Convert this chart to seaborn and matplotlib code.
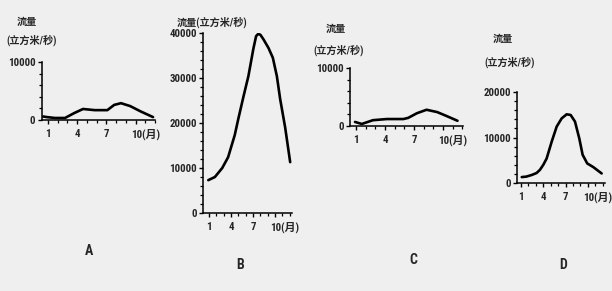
import matplotlib
matplotlib.use("Agg")
import matplotlib.pyplot as plt
import seaborn as sns
from matplotlib import font_manager
from matplotlib.ticker import MultipleLocator
from matplotlib.transforms import ScaledTranslation

# ---- data ----
months_a = [0.5, 0.9, 1.7, 2.75, 3.7, 4.6, 5.8, 7.1, 7.8, 8.5, 9.45, 10.5, 11.8]
flow_a = [600, 500, 350, 350, 1200, 1900, 1700, 1700, 2600, 2900, 2400, 1500, 500]

months_b = [0.9, 1.8, 2.8, 3.6, 4.5, 5.0, 5.68, 6.36, 7.04, 7.41, 7.7, 8.0, 8.41,
            9.09, 9.69, 10.24, 10.69, 11.37, 12.05]
flow_b = [7300, 8000, 10000, 12400, 17300, 21000, 25800, 30400, 36500, 39300, 39800,
          39600, 38600, 36700, 34500, 30400, 25300, 19000, 11300]

months_c = [0.9, 1.6, 2.75, 4.2, 5.9, 6.4, 7.3, 8.3, 9.4, 10.4, 11.5]
flow_c = [700, 350, 1000, 1200, 1200, 1400, 2200, 2800, 2400, 1700, 900]

months_d = [1.1, 1.7, 2.44, 3.1, 3.55, 4.0, 4.45, 5.13, 5.8, 6.47, 7.14, 7.68, 8.26,
            8.84, 9.29, 9.91, 10.72, 11.85]
flow_d = [1300, 1400, 1760, 2200, 2900, 4000, 5400, 9100, 12400, 14200, 15100, 14950,
          13500, 9800, 6200, 4300, 3500, 2100]

x_ticks = [1, 4, 7, 10]
x_ticklabels = ["1", "4", "7", "10(月)"]
panel_names = ["A", "B", "C", "D"]
y_max = [10000, 40000, 10000, 20000]
y_major = [[0, 10000], [0, 10000, 20000, 30000, 40000], [0, 10000], [0, 10000, 20000]]
title_top = "流量"
title_unit = "(立方米/秒)"

sns.set_theme(style="white")

# pick a narrow font for the digits if one is installed
ttf = font_manager.fontManager.ttflist
names = {f.name for f in ttf}
num_font, num_stretch = "Liberation Sans", "normal"
for cand in ["Liberation Sans Narrow", "Roboto Condensed", "DejaVu Sans Condensed",
             "Open Sans Condensed"]:
    if cand in names:
        num_font = cand
        break
else:
    for f in ttf:
        if f.name == "DejaVu Sans" and str(f.stretch) in ("condensed", "semi-condensed"):
            num_font, num_stretch = "DejaVu Sans", "condensed"
            break

plt.rcParams["font.family"] = [num_font, "Noto Sans CJK SC", "DejaVu Sans"]
cjk = ["Noto Sans CJK SC", "DejaVu Sans"]
mixed = [num_font, "Noto Sans CJK SC", "DejaVu Sans"]

BG = "#efefef"
W, H = 612, 291
fig = plt.figure(figsize=(W / 100, H / 100), dpi=100, facecolor=BG)


def make_axes(x0, x1, y_top, y_bot):
    ax = fig.add_axes([x0 / W, 1 - y_bot / H, (x1 - x0) / W, (y_bot - y_top) / H])
    ax.set_facecolor("none")
    return ax


panels = [
    (months_a, flow_a, (41.7, 155, 62, 120), (0.35, 12.0)),
    (months_b, flow_b, (203, 292, 33, 213), (0.18, 12.3)),
    (months_c, flow_c, (350, 463, 68, 126), (0.38, 12.07)),
    (months_d, flow_d, (517, 605, 92, 183), (0.46, 12.3)),
]

for i, (mx, fy, box, xl) in enumerate(panels):
    ax = make_axes(*box)
    sns.lineplot(x=mx, y=fy, ax=ax, color="black", linewidth=1.9,
                 estimator=None, sort=False)
    ax.set_xlim(*xl)
    ax.set_ylim(0, y_max[i])
    for s in ["top", "right"]:
        ax.spines[s].set_visible(False)
    for s in ["left", "bottom"]:
        ax.spines[s].set_color("black")
        ax.spines[s].set_linewidth(1.1)
    ax.set_xticks(x_ticks)
    ax.set_xticklabels(x_ticklabels)
    ax.xaxis.set_minor_locator(MultipleLocator(1))
    ax.set_yticks(y_major[i])
    ax.set_yticklabels([str(v) for v in y_major[i]])
    ax.yaxis.set_minor_locator(MultipleLocator(2000))
    ax.tick_params(axis="both", which="major", direction="out", length=3, width=1,
                   color="black", labelsize=7.8, pad=1.5, left=True, bottom=True)
    ax.tick_params(axis="x", which="major", pad=3.5)
    ax.tick_params(axis="both", which="minor", direction="out", length=2, width=0.9,
                   color="black", left=True, bottom=True)
    for lab in ax.get_xticklabels() + ax.get_yticklabels():
        lab.set_fontweight("bold")
        lab.set_family(mixed)
        lab.set_fontstretch(num_stretch)
    last = ax.get_xticklabels()[-1]
    last.set_horizontalalignment("left")
    last.set_transform(last.get_transform() + ScaledTranslation(-4.5 / 100, 0, fig.dpi_scale_trans))
    ax.set_xlabel("")
    ax.set_ylabel("")


def ftext(x, y, s, size, fam, **kw):
    fig.text(x / W, 1 - y / H, s, ha="center", va="center", fontsize=size,
             family=fam, fontweight="bold", **kw)


ftext(27, 22, title_top, 7.3, cjk)
ftext(32, 40, title_unit, 7.3, mixed)
ftext(212, 22, title_top + title_unit, 7.3, mixed)
ftext(336, 29, title_top, 7.3, cjk)
ftext(339, 50, title_unit, 7.3, mixed)
ftext(503, 39, title_top, 7.3, cjk)
ftext(510, 62, title_unit, 7.3, mixed)

for name, (lx, ly) in zip(panel_names, [(89, 251), (240, 265), (413, 260), (563, 265)]):
    ftext(lx, ly, name, 10, mixed)

fig.savefig("out.png", dpi=100, facecolor=BG)
